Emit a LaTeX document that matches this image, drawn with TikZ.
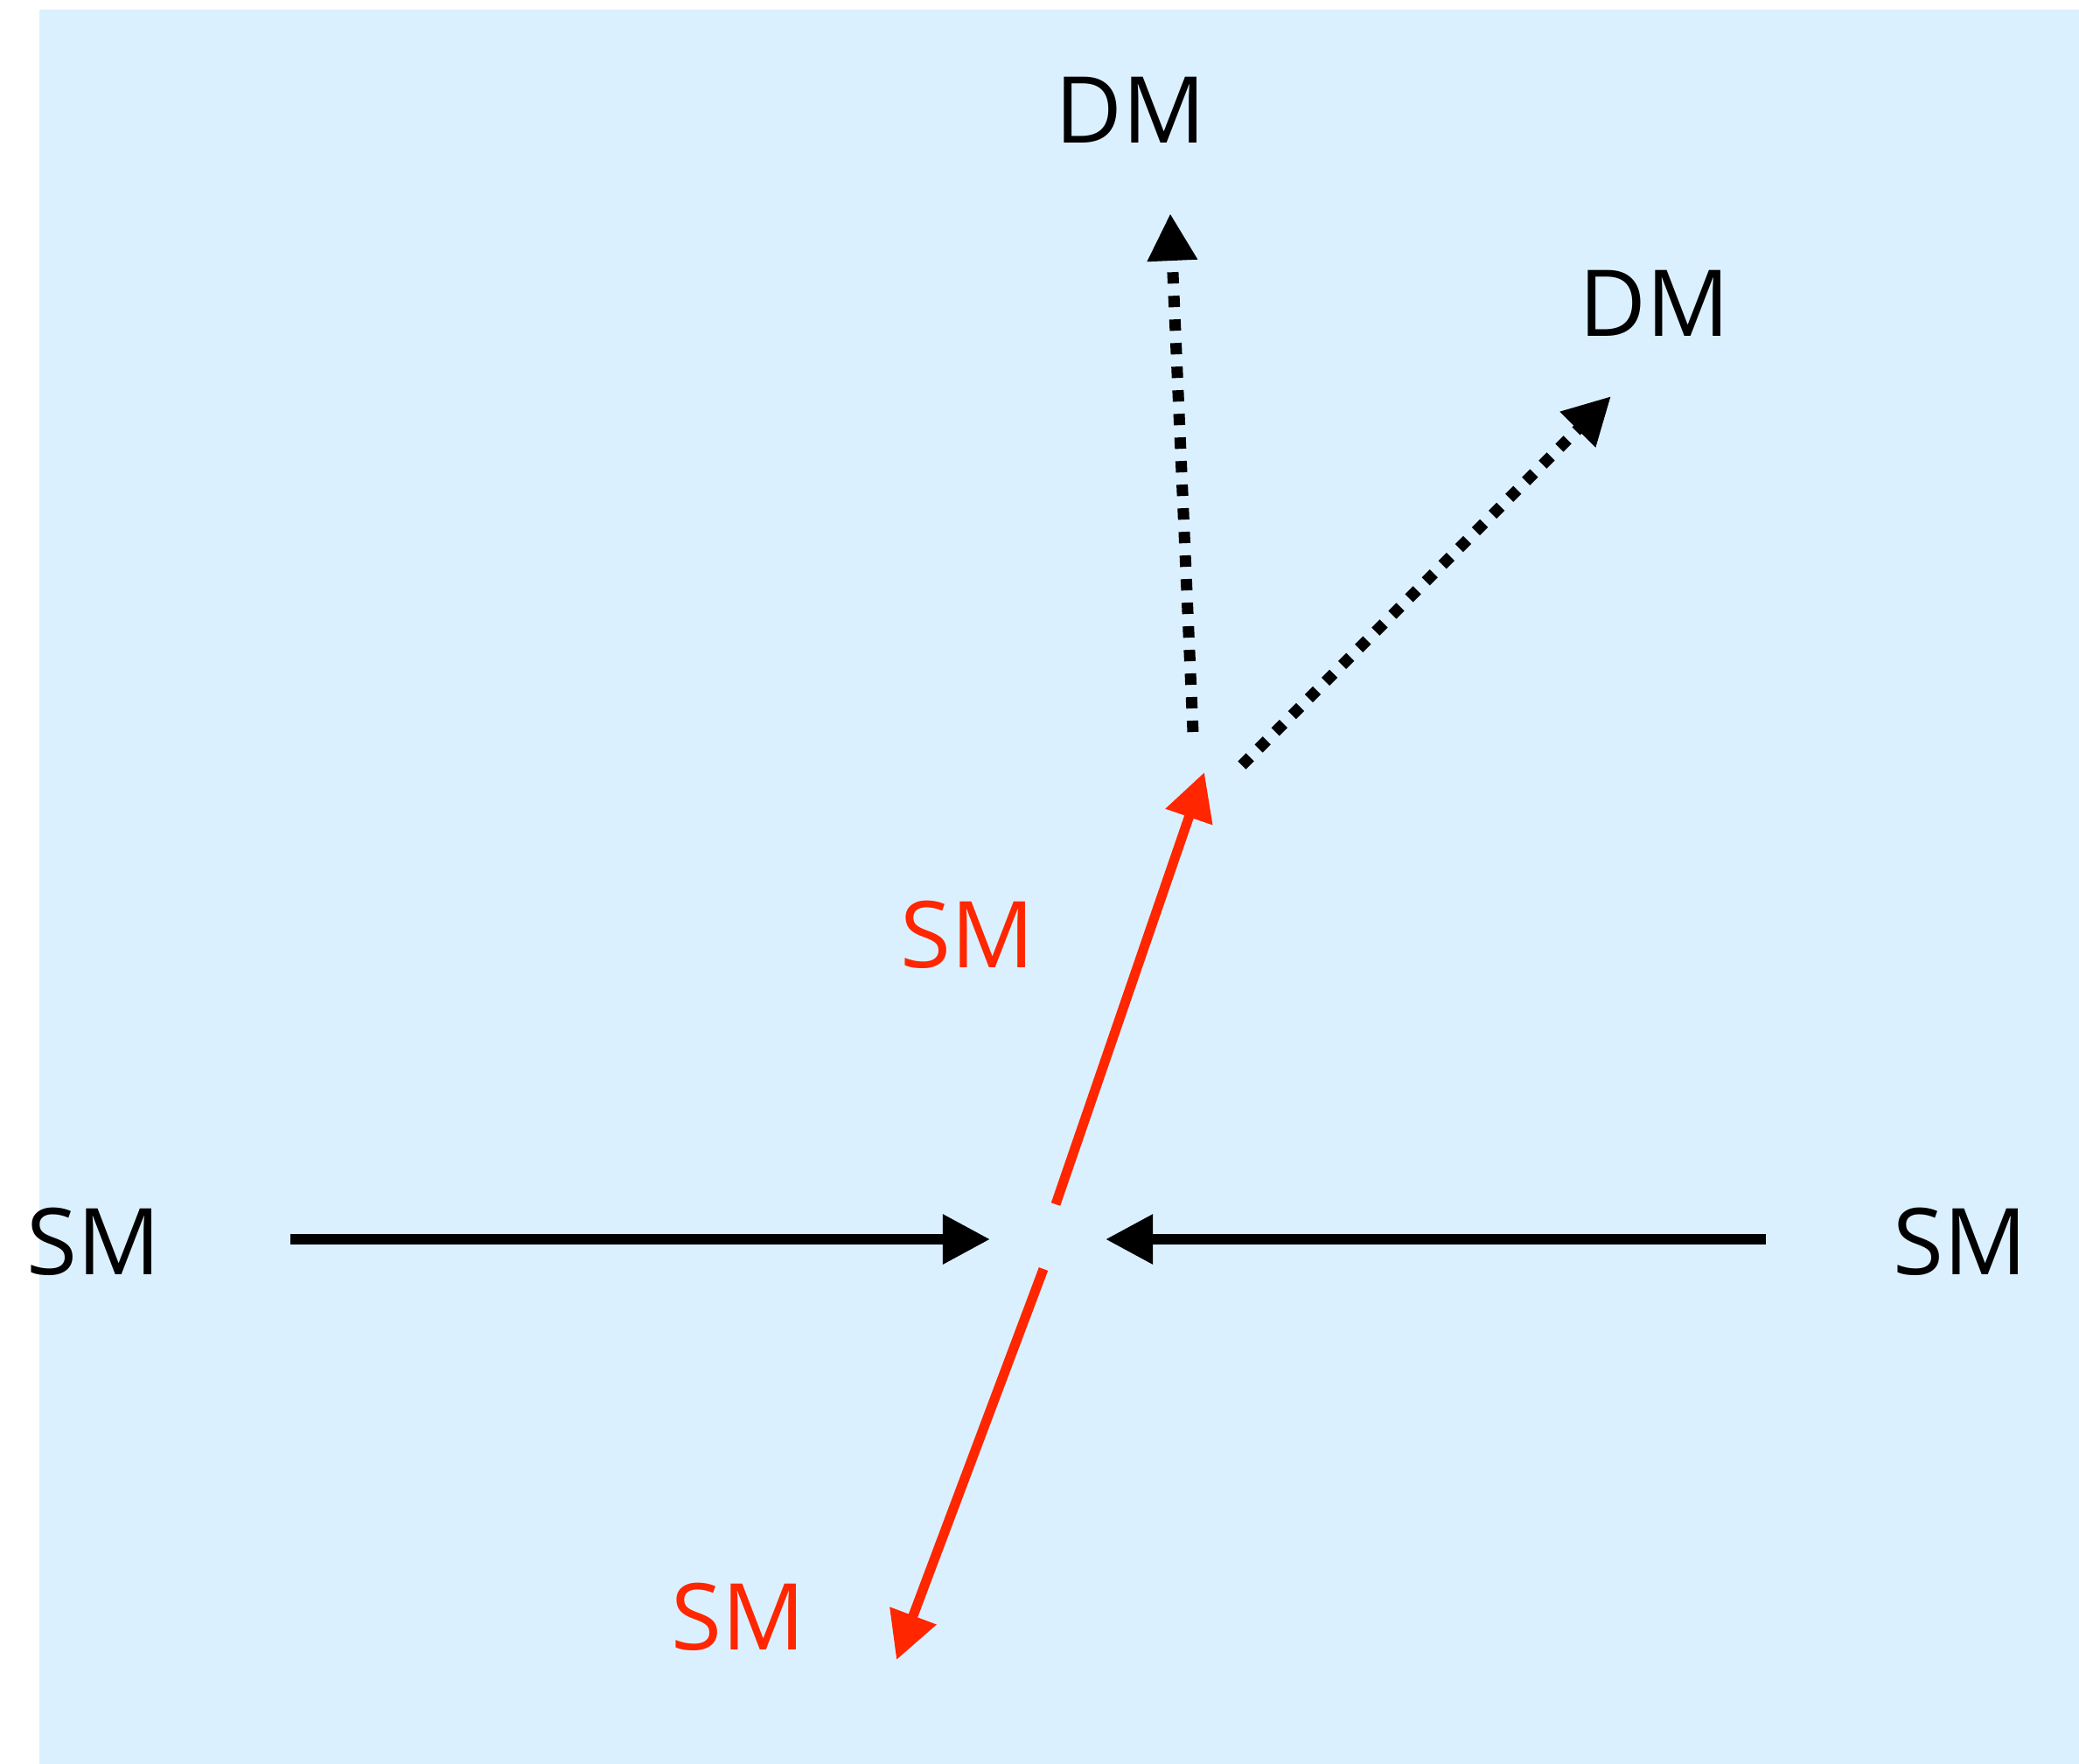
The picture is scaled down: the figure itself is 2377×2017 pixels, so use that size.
\documentclass[tikz,border=0pt]{standalone}
\usepackage{fontspec}
\setmainfont{Open Sans}
\usetikzlibrary{arrows.meta}
\definecolor{SkyBack}{RGB}{219,240,254}
\definecolor{SmRed}{RGB}{255,38,0}

\begin{document}
\begin{tikzpicture}[x=0.01cm,y=-0.01cm,
		lbl/.style={inner sep=0pt,anchor=base,font=\fontsize{30}{36}\selectfont},
		beam/.style={line width=1.2mm,-{Triangle[length=5.4mm,width=5.4mm]}},
		redbeam/.style={beam,draw=SmRed,line width=1.1mm},
		dmbeam/.style={line width=1.3mm,dash pattern=on 1.3mm off 1.4mm,
			-{Triangle[length=5.4mm,width=5.4mm]}}]
				\useasboundingbox (0,0) rectangle (2377,2017);
				\fill[SkyBack] (45,11) rectangle (2377,2017);
				
				% labels
				\node[lbl] (smL) at (107,1457) {SM};
				\node[lbl] (smR) at (2241,1457) {SM};
				\node[lbl,text=SmRed] (smUp) at (1106,1106) {SM};
				\node[lbl,text=SmRed] (smDown) at (844,1886) {SM};
				\node[lbl] (dmUp) at (1293,163) {DM};
				\node[lbl] (dmRight) at (1892,384) {DM};
				
				% ends of the arrows
				\foreach \n/\p in {inL/{332,1417},hitL/{1132,1417},
					inR/{2019,1417},hitR/{1264,1417},
					outUp0/{1207,1377},outUp1/{1377,883},
					outDown0/{1193,1451},outDown1/{1025,1898},
					dmA0/{1364,837},dmA1/{1338,244},
					dmB0/{1420,875},dmB1/{1842,453}}
				\coordinate (\n) at (\p);
				
				\draw[beam] (inL)--(hitL);
				\draw[beam] (inR)--(hitR);
				\draw[redbeam] (outUp0)--(outUp1);
				\draw[redbeam] (outDown0)--(outDown1);
				\draw[dmbeam] (dmA0)--(dmA1);
				\draw[dmbeam] (dmB0)--(dmB1);
			\end{tikzpicture}
\end{document}
